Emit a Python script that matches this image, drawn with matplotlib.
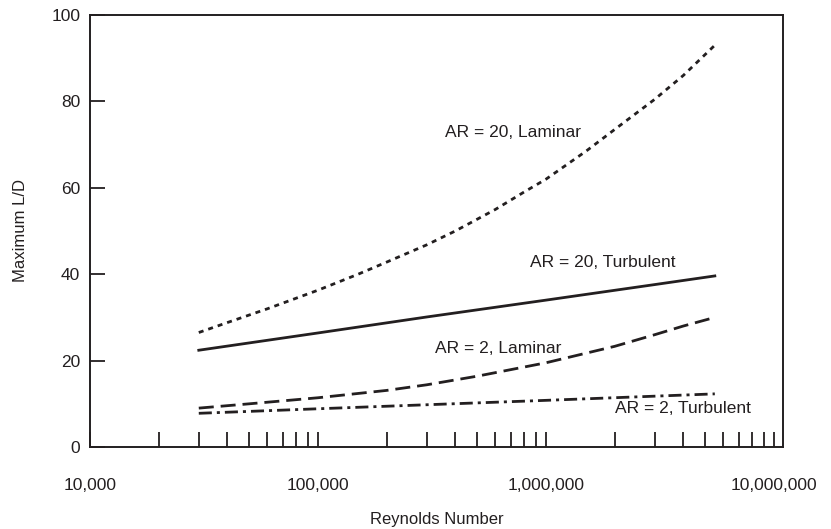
import matplotlib
matplotlib.use("Agg")
import matplotlib.pyplot as plt
from matplotlib.ticker import FixedLocator, FixedFormatter, LogLocator, NullFormatter

plt.rcParams['font.family'] = ['Liberation Sans', 'DejaVu Sans']

# ---- data ----
re_ar20_lam = [3e4, 4e4, 6e4, 1e5, 1.5e5, 2e5, 3e5, 4e5, 6e5, 8e5, 1e6, 1.5e6, 2e6, 3e6, 4e6, 5.5e6]
ld_ar20_lam = [26.5, 28.8, 32.0, 36.3, 40.0, 42.8, 46.8, 50.0, 55.0, 59.0, 62.0, 68.5, 73.5, 80.5, 86.0, 93.0]

re_ar20_turb = [3e4, 1e5, 3e5, 1e6, 3e6, 5.5e6]
ld_ar20_turb = [22.4, 26.4, 30.1, 34.0, 37.6, 39.6]

re_ar2_lam = [3e4, 5e4, 1e5, 2e5, 3e5, 5e5, 1e6, 2e6, 3e6, 4e6, 5.5e6]
ld_ar2_lam = [9.0, 10.0, 11.4, 13.1, 14.4, 16.4, 19.5, 23.3, 26.0, 28.0, 30.0]

re_ar2_turb = [3e4, 1e5, 1e6, 5.5e6]
ld_ar2_turb = [7.8, 8.85, 10.8, 12.3]

x_tick_values = [1e4, 1e5, 1e6, 1e7]
x_tick_labels = ["10,000", "100,000", "1,000,000", "10,000,000"]
y_tick_values = [0, 20, 40, 60, 80, 100]

labels = ["AR = 20, Laminar", "AR = 20, Turbulent", "AR = 2, Laminar", "AR = 2, Turbulent"]
label_pos = [(7.2e5, 72.7), (1.77e6, 42.8), (6.2e5, 22.9), (4.0e6, 8.9)]

ink = "#231f20"

fig = plt.figure(figsize=(8.31, 5.29), dpi=100)
ax = fig.add_axes([90/831, 1-447/529, 693/831, 432/529])

lw = 2.0
ax.plot(re_ar20_lam, ld_ar20_lam, color=ink, lw=lw, linestyle=(0, (1.8, 1.8)), dash_capstyle='butt')
ax.plot(re_ar20_turb, ld_ar20_turb, color=ink, lw=lw, linestyle='-')
ax.plot(re_ar2_lam, ld_ar2_lam, color=ink, lw=lw, linestyle=(0, (5.4, 2.5)), dash_capstyle='butt')
ax.plot(re_ar2_turb, ld_ar2_turb, color=ink, lw=lw, linestyle=(0, (4.7, 1.8, 1.1, 1.8)), dash_capstyle='butt')

for txt, (xx, yy) in zip(labels, label_pos):
    ax.text(xx, yy, txt, ha='center', va='center', fontsize=12.5, color=ink)

ax.set_xscale('log')
ax.set_xlim(1e4, 1.095e7)
ax.set_ylim(0, 100)

ax.xaxis.set_major_locator(FixedLocator(x_tick_values))
ax.xaxis.set_major_formatter(FixedFormatter(x_tick_labels))
ax.xaxis.set_minor_locator(LogLocator(base=10, subs=[2, 3, 4, 5, 6, 7, 8, 9]))
ax.xaxis.set_minor_formatter(NullFormatter())
ax.set_yticks(y_tick_values)

for s in ax.spines.values():
    s.set_linewidth(1.4)
    s.set_color(ink)

ax.tick_params(axis='x', which='both', direction='in', length=11, width=1.3, color=ink,
               pad=22, labelsize=12.5, labelcolor=ink)
ax.tick_params(axis='y', which='both', direction='in', length=11, width=1.3, color=ink,
               pad=7, labelsize=12.5, labelcolor=ink)

ax.set_xlabel("Reynolds Number", fontsize=12, color=ink, labelpad=14)
ax.set_ylabel("Maximum L/D", fontsize=12, color=ink, labelpad=17)

fig.savefig("out.png", dpi=100)
